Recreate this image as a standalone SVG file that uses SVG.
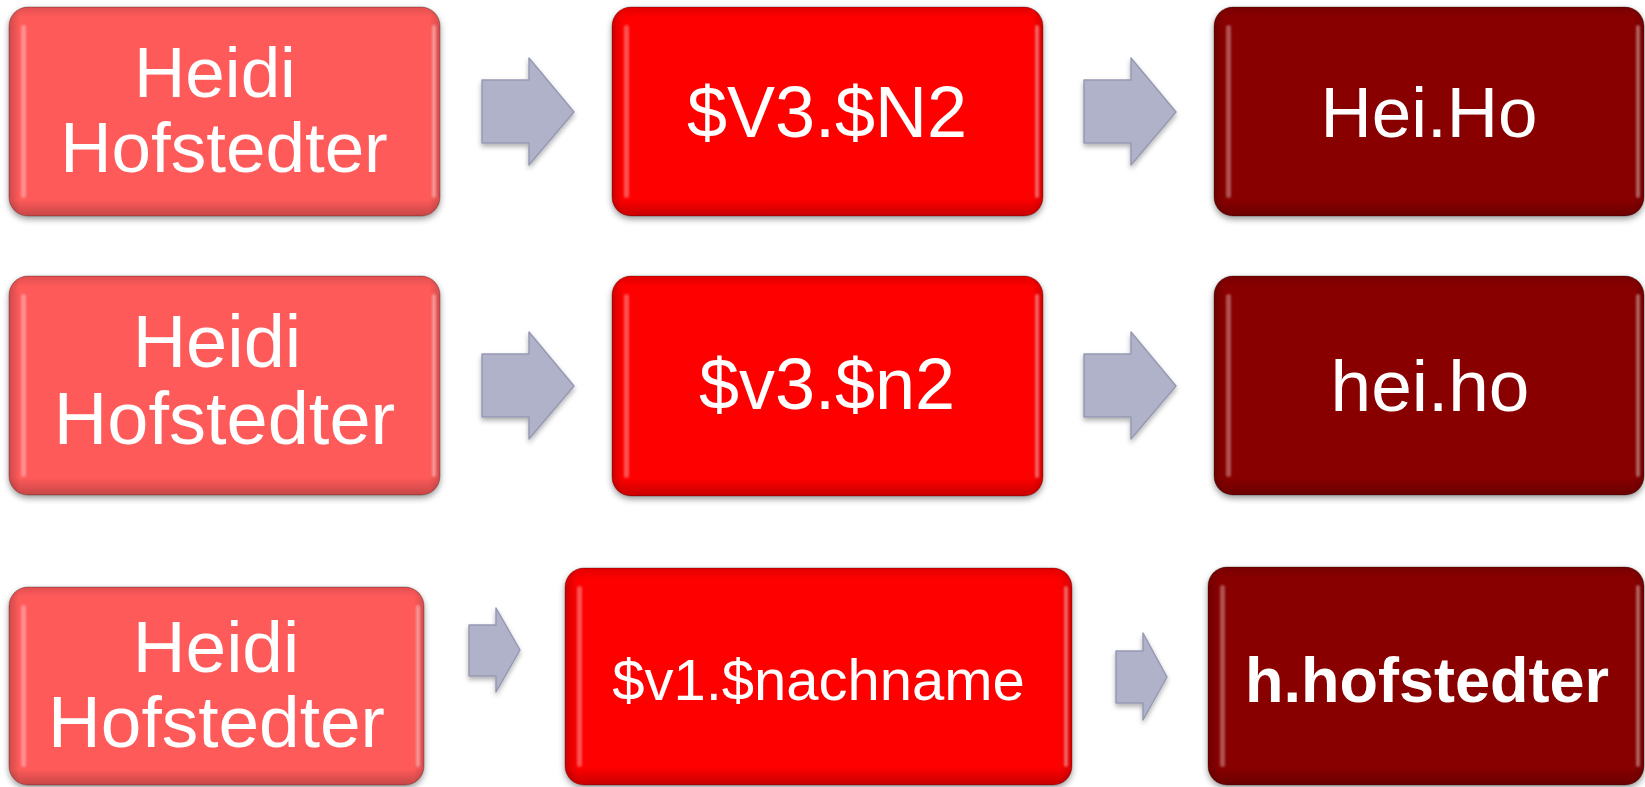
<svg xmlns="http://www.w3.org/2000/svg" width="1645" height="787" viewBox="0 0 1645 787">
<style>
.box{stroke:rgba(0,0,0,0.28);stroke-width:1;filter:url(#shadow)}
.a{fill:#FF5A5A}
.b{fill:#FE0000}
.c{fill:#880000}
.shadeV{fill:url(#gV);pointer-events:none}
.shadeH{fill:url(#gH)}
.hl{fill:#ffffff;opacity:0.32;filter:url(#blur)}
.hr{fill:#ffffff;opacity:0.38;filter:url(#blur)}
.t{font-family:"Liberation Sans",Arial,Helvetica,sans-serif;fill:#ffffff;text-anchor:middle}
.arrow{fill:#B0B2CA;stroke:#9799B3;stroke-width:1.5;stroke-linejoin:round;filter:url(#ashadow)}
</style>
<defs>
<filter id="shadow" x="-5%" y="-5%" width="110%" height="115%">
<feDropShadow dx="0" dy="3" stdDeviation="3" flood-color="#000" flood-opacity="0.4"/>
</filter>
<filter id="ashadow" x="-20%" y="-20%" width="140%" height="140%">
<feDropShadow dx="0" dy="3" stdDeviation="2.5" flood-color="#000" flood-opacity="0.3"/>
</filter>
<filter id="blur" x="-50%" y="-5%" width="200%" height="110%">
<feGaussianBlur stdDeviation="1.2"/>
</filter>
<linearGradient id="gV" x1="0" y1="0" x2="0" y2="1">
<stop offset="0" stop-color="#000" stop-opacity="0.12"/>
<stop offset="0.05" stop-color="#000" stop-opacity="0"/>
<stop offset="0.92" stop-color="#000" stop-opacity="0"/>
<stop offset="1" stop-color="#000" stop-opacity="0.22"/>
</linearGradient>
<linearGradient id="gH" x1="0" y1="0" x2="1" y2="0">
<stop offset="0" stop-color="#000" stop-opacity="0.18"/>
<stop offset="0.025" stop-color="#000" stop-opacity="0"/>
<stop offset="0.975" stop-color="#000" stop-opacity="0"/>
<stop offset="1" stop-color="#000" stop-opacity="0.15"/>
</linearGradient>
</defs>
<rect width="1645" height="787" fill="#ffffff"/>

<g id="connectors">
<polygon class="arrow" points="482,80 529,80 529,58 574,112 529,165 529,143 482,143"/>
<polygon class="arrow" points="1084,80 1131,80 1131,58 1176,112 1131,165 1131,143 1084,143"/>
<polygon class="arrow" points="482,354 529,354 529,332 574,386 529,439 529,417 482,417"/>
<polygon class="arrow" points="1084,354 1131,354 1131,332 1176,386 1131,439 1131,417 1084,417"/>
<polygon class="arrow" points="469,625 496,625 496,608 520,650 496,692 496,676 469,676"/>
<polygon class="arrow" points="1116,651 1143,651 1143,633 1167,677 1143,720 1143,703 1116,703"/>
</g>

<g id="node-a1">
<rect class="box a" x="9" y="7" width="431" height="209" rx="19"/>
<rect class="shadeV" x="9" y="7" width="431" height="209" rx="19"/>
<rect class="shadeH" x="9" y="7" width="431" height="209" rx="19"/>
<rect class="hl" x="21" y="25" width="5" height="173" rx="2.5"/>
<rect class="hr" x="432" y="25" width="4" height="173" rx="2"/>
<text class="t" font-size="71" x="215" y="97">Heidi</text>
<text class="t" font-size="71" x="224" y="172">Hofstedter</text>
</g>

<g id="node-b1">
<rect class="box b" x="612" y="7" width="431" height="209" rx="19"/>
<rect class="shadeV" x="612" y="7" width="431" height="209" rx="19"/>
<rect class="shadeH" x="612" y="7" width="431" height="209" rx="19"/>
<rect class="hl" x="624" y="25" width="5" height="173" rx="2.5"/>
<rect class="hr" x="1035" y="25" width="4" height="173" rx="2"/>
<text class="t" font-size="72" x="827" y="137">$V3.$N2</text>
</g>

<g id="node-c1">
<rect class="box c" x="1214" y="7" width="430" height="209" rx="19"/>
<rect class="shadeV" x="1214" y="7" width="430" height="209" rx="19"/>
<rect class="shadeH" x="1214" y="7" width="430" height="209" rx="19"/>
<rect class="hl" x="1226" y="25" width="5" height="173" rx="2.5"/>
<rect class="hr" x="1636" y="25" width="4" height="173" rx="2"/>
<text class="t" font-size="71" x="1429" y="137">Hei.Ho</text>
</g>

<g id="node-a2">
<rect class="box a" x="9" y="276" width="431" height="219" rx="19"/>
<rect class="shadeV" x="9" y="276" width="431" height="219" rx="19"/>
<rect class="shadeH" x="9" y="276" width="431" height="219" rx="19"/>
<rect class="hl" x="21" y="294" width="5" height="183" rx="2.5"/>
<rect class="hr" x="432" y="294" width="4" height="183" rx="2"/>
<text class="t" font-size="74" x="217" y="367">Heidi</text>
<text class="t" font-size="74" x="224.5" y="444">Hofstedter</text>
</g>

<g id="node-b2">
<rect class="box b" x="612" y="276" width="431" height="220" rx="19"/>
<rect class="shadeV" x="612" y="276" width="431" height="220" rx="19"/>
<rect class="shadeH" x="612" y="276" width="431" height="220" rx="19"/>
<rect class="hl" x="624" y="294" width="5" height="184" rx="2.5"/>
<rect class="hr" x="1035" y="294" width="4" height="184" rx="2"/>
<text class="t" font-size="72" x="827" y="409">$v3.$n2</text>
</g>

<g id="node-c2">
<rect class="box c" x="1214" y="276" width="430" height="219" rx="19"/>
<rect class="shadeV" x="1214" y="276" width="430" height="219" rx="19"/>
<rect class="shadeH" x="1214" y="276" width="430" height="219" rx="19"/>
<rect class="hl" x="1226" y="294" width="5" height="183" rx="2.5"/>
<rect class="hr" x="1636" y="294" width="4" height="183" rx="2"/>
<text class="t" font-size="73" x="1430" y="411">hei.ho</text>
</g>

<g id="node-a3">
<rect class="box a" x="9" y="587" width="415" height="198" rx="19"/>
<rect class="shadeV" x="9" y="587" width="415" height="198" rx="19"/>
<rect class="shadeH" x="9" y="587" width="415" height="198" rx="19"/>
<rect class="hl" x="21" y="605" width="5" height="162" rx="2.5"/>
<rect class="hr" x="416" y="605" width="4" height="162" rx="2"/>
<text class="t" font-size="73" x="216" y="672">Heidi</text>
<text class="t" font-size="73" x="216.5" y="747">Hofstedter</text>
</g>

<g id="node-b3">
<rect class="box b" x="565" y="568" width="507" height="217" rx="19"/>
<rect class="shadeV" x="565" y="568" width="507" height="217" rx="19"/>
<rect class="shadeH" x="565" y="568" width="507" height="217" rx="19"/>
<rect class="hl" x="577" y="586" width="5" height="181" rx="2.5"/>
<rect class="hr" x="1064" y="586" width="4" height="181" rx="2"/>
<text class="t" font-size="58" x="818.5" y="700">$v1.$nachname</text>
</g>

<g id="node-c3">
<rect class="box c" x="1208" y="567" width="436" height="218" rx="19"/>
<rect class="shadeV" x="1208" y="567" width="436" height="218" rx="19"/>
<rect class="shadeH" x="1208" y="567" width="436" height="218" rx="19"/>
<rect class="hl" x="1220" y="585" width="5" height="182" rx="2.5"/>
<rect class="hr" x="1636" y="585" width="4" height="182" rx="2"/>
<text class="t" font-size="63" font-weight="bold" x="1427" y="702">h.hofstedter</text>
</g>
</svg>
